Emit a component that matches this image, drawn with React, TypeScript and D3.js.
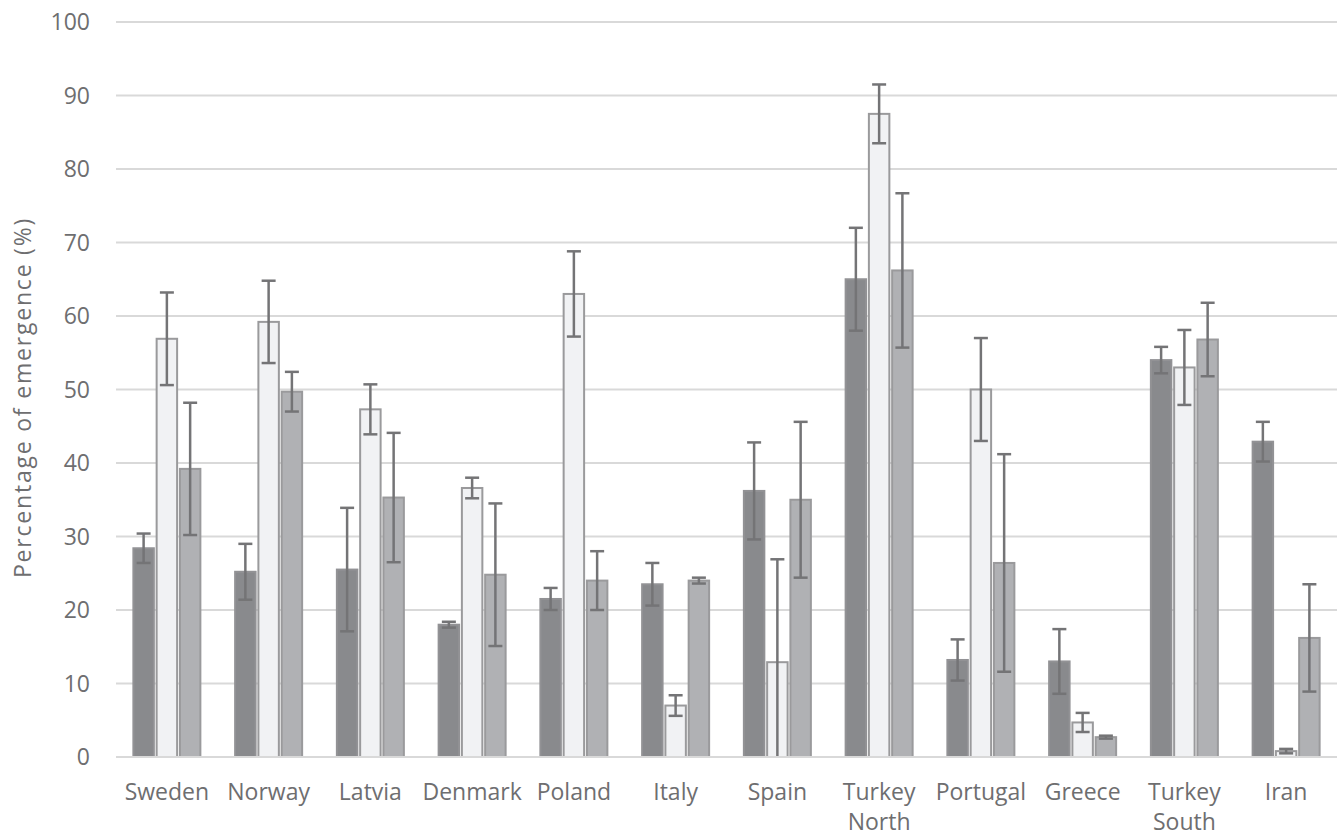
import React from "react";
import * as d3 from "d3";

const categories = ["Sweden", "Norway", "Latvia", "Denmark", "Poland", "Italy", "Spain", "Turkey\nNorth", "Portugal", "Greece", "Turkey\nSouth", "Iran"];
const seriesA = [28.4, 25.2, 25.5, 18.0, 21.5, 23.5, 36.2, 65.0, 13.2, 13.0, 54.0, 42.9];
const errA = [2.0, 3.8, 8.4, 0.4, 1.5, 2.9, 6.6, 7.0, 2.8, 4.4, 1.8, 2.7];
const seriesB = [56.9, 59.2, 47.3, 36.6, 63.0, 7.0, 12.9, 87.5, 50.0, 4.7, 53.0, 0.8];
const errB = [6.3, 5.6, 3.4, 1.4, 5.8, 1.4, 14.0, 4.0, 7.0, 1.3, 5.1, 0.3];
const seriesC = [39.2, 49.7, 35.3, 24.8, 24.0, 24.0, 35.0, 66.2, 26.4, 2.7, 56.8, 16.2];
const errC = [9.0, 2.7, 8.8, 9.7, 4.0, 0.4, 10.6, 10.5, 14.8, 0.2, 5.0, 7.3];
const yTicks = [0, 10, 20, 30, 40, 50, 60, 70, 80, 90, 100];
const yTitle = "Percentage of emergence (%)";

const W = 1337, H = 836;
const left = 116, right = 1337, top = 22, bottom = 757;
const FONT = "'Open Sans', sans-serif";
const TXT = "#6e6e70";

const series = [
  { values: seriesA, errs: errA, fill: "#898a8d", stroke: "#929295" },
  { values: seriesB, errs: errB, fill: "#f1f2f4", stroke: "#9a9a9c" },
  { values: seriesC, errs: errC, fill: "#b0b1b4", stroke: "#9a9a9c" },
];

export default function App() {
  const x = d3.scaleBand<string>().domain(categories).range([left, right]).padding(0);
  const y = d3.scaleLinear().domain([0, 100]).range([bottom, top]);
  const inner = d3.scaleBand<number>().domain([0, 1, 2]).range([-33.5, 33.5]).paddingInner(0.12);
  const bw = inner.bandwidth();
  const cap = 7;
  return (
    <svg width={W} height={H} style={{ position: "absolute", left: 0, top: 0, background: "#fff" }}>
      <rect x={0} y={0} width={W} height={H} fill="#fff" />
      {yTicks.map((t) => (
        <g key={t}>
          <line x1={left} x2={right} y1={y(t)} y2={y(t)} stroke="#d9d9d9" strokeWidth={2} />
          <text x={90} y={y(t)} dy="0.36em" textAnchor="end" fontFamily={FONT} fontSize={23} fill={TXT}>
            {t}
          </text>
        </g>
      ))}
      {categories.map((c, i) => {
        const cx = (x(c) as number) + x.bandwidth() / 2;
        return (
          <g key={c}>
            {series.map((s, k) => {
              const bx = cx + (inner(k) as number);
              const v = s.values[i];
              const e = s.errs[i];
              const ex = bx + bw / 2;
              const lo = Math.max(0, v - e);
              return (
                <g key={k}>
                  <rect x={bx} y={y(v)} width={bw} height={y(0) - y(v)} fill={s.fill} stroke={s.stroke} strokeWidth={2} />
                  <line x1={ex} x2={ex} y1={y(v + e)} y2={y(lo)} stroke="#747476" strokeWidth={2.5} />
                  <line x1={ex - cap} x2={ex + cap} y1={y(v + e)} y2={y(v + e)} stroke="#747476" strokeWidth={2.5} />
                  {v - e > 0 && (
                    <line x1={ex - cap} x2={ex + cap} y1={y(v - e)} y2={y(v - e)} stroke="#747476" strokeWidth={2.5} />
                  )}
                </g>
              );
            })}
            <text x={cx} y={800} textAnchor="middle" fontFamily={FONT} fontSize={23} fill={TXT}>
              {c.split("\n").map((line, li) => (
                <tspan key={li} x={cx} dy={li === 0 ? 0 : 30}>
                  {line}
                </tspan>
              ))}
            </text>
          </g>
        );
      })}
      <line x1={left} x2={right} y1={bottom} y2={bottom} stroke="#d9d9d9" strokeWidth={2} />
      <text
        transform={`translate(31, ${(top + bottom) / 2 + 8}) rotate(-90)`}
        textAnchor="middle"
        fontFamily={FONT}
        fontSize={23}
        letterSpacing={1.8}
        fill={TXT}
      >
        {yTitle}
      </text>
    </svg>
  );
}
